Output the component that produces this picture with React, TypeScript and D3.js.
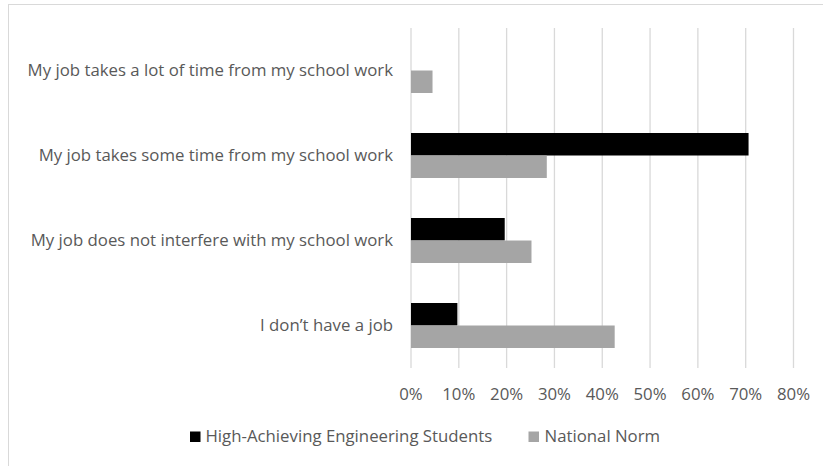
import React from "react";
import * as d3 from "d3";

const categories = [
  "My job takes a lot of time from my school work",
  "My job takes some time from my school work",
  "My job does not interfere with my school work",
  "I don\u2019t have a job",
];
const seriesNames = ["High-Achieving Engineering Students", "National Norm"];
const highAchieving = [0, 70.6, 19.6, 9.7];
const nationalNorm = [4.5, 28.4, 25.2, 42.6];
const xTicks = [0, 10, 20, 30, 40, 50, 60, 70, 80];
const colors = ["#000000", "#a5a5a5"];

const W = 823;
const H = 466;
const FONT = "'Open Sans', Lato, sans-serif";
const FS = 16.8;

export default function App() {
  const x = d3.scaleLinear().domain([0, 80]).range([411, 793.5]);
  const y = d3.scaleBand<string>().domain(categories).range([28, 368]);
  const inner = d3
    .scaleBand<string>()
    .domain(seriesNames)
    .range([0, 45]);
  const series = [highAchieving, nationalNorm];

  return (
    <svg
      width={W}
      height={H}
      style={{ position: "absolute", left: 0, top: 0, background: "#fff" }}
      fontFamily={FONT}
    >
      <rect x={8.5} y={4.5} width={W + 20} height={H + 20} fill="#fff" stroke="#d9d9d9" strokeWidth={1} />
      {xTicks.map((t) => (
        <line key={t} x1={x(t)} x2={x(t)} y1={28} y2={368} stroke="#d9d9d9" strokeWidth={1.3} />
      ))}
      {categories.map((c, i) => {
        const band = y(c)!;
        const start = band + (y.bandwidth() - 45) / 2;
        return (
          <g key={c}>
            {series.map((s, j) =>
              s[i] > 0 ? (
                <rect
                  key={j}
                  x={x(0)}
                  y={start + inner(seriesNames[j])!}
                  width={x(s[i]) - x(0)}
                  height={inner.bandwidth()}
                  fill={colors[j]}
                />
              ) : null
            )}
            <text
              x={393}
              y={band + y.bandwidth() / 2}
              dy="0.35em"
              textAnchor="end"
              fontSize={FS}
              fill="#595959"
            >
              {c}
            </text>
          </g>
        );
      })}
      {xTicks.map((t) => (
        <text key={t} x={x(t)} y={394.5} dy="0.35em" textAnchor="middle" fontSize={FS} fill="#595959">
          {t + "%"}
        </text>
      ))}
      <g>
        <rect x={190} y={431.5} width={10.5} height={10.5} fill={colors[0]} />
        <text x={205.5} y={436.5} dy="0.35em" fontSize={FS} fill="#595959">
          {seriesNames[0]}
        </text>
        <rect x={528.5} y={431.5} width={10.5} height={10.5} fill={colors[1]} />
        <text x={544.5} y={436.5} dy="0.35em" fontSize={FS} fill="#595959">
          {seriesNames[1]}
        </text>
      </g>
    </svg>
  );
}
